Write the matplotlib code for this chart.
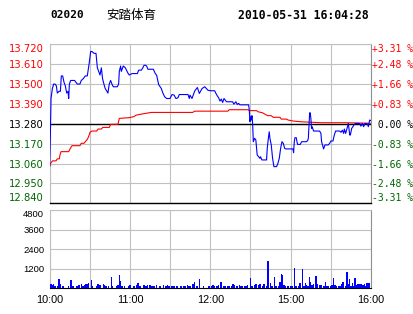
import matplotlib.pyplot as plt
import numpy as np

plt.rcParams['font.family'] = ['DejaVu Sans', 'Noto Sans CJK SC']

code = '02020'
name = '安踏体育'
stamp = '2010-05-31 16:04:28'
prev_close = 13.28
price_ticks = [12.84, 12.95, 13.06, 13.17, 13.28, 13.39, 13.50, 13.61, 13.72]
vol_ticks = [1200, 2400, 3600, 4800]
time_ticks = [0, 60, 120, 180, 240]
time_labels = ['10:00', '11:00', '12:00', '15:00', '16:00']

# minutes since open (10:00-12:30, 14:30-16:00 -> 0..240)
price_min = [0, 0.5, 1, 2, 3, 4, 5, 5.7, 7, 8, 8.7, 9.7, 10.7, 11.7, 12.7, 13.7,
             14.2, 14.7, 15.7, 18.6, 19.6, 20.6, 22.6, 23.6, 25.1, 26.6, 28.1,
             28.6, 29.6, 30.6, 31.6, 33.1, 34.6, 35.6, 36.6, 37.6, 38.6, 39.5,
             40.5, 41.5, 43.5, 44.5, 45.5, 46.5, 47.5, 50.5, 51.5, 52, 53, 53.5,
             55, 56.5, 58.5, 59.5,
             61.5, 65.5, 66.5, 68.5, 69.5, 70.5, 71.5, 72.4, 73.4, 77.4, 78.9,
             79.9, 81.4, 83.4, 84.4, 85.9, 87.4, 89.9, 91.4, 92.9, 94.3, 95.8,
             96.8, 103.3, 104.3, 104.8, 106.3, 108.3, 110.3, 111.8, 113.8, 115.8,
             118.2, 120.2, 123.2, 124.2, 125.2, 126.2, 127.2, 128.2, 129.2,
             130.2, 131.1, 132.1, 136.6, 137.6, 139.1, 140.1, 141.1, 142.1,
             148.6, 149.1, 149.6, 150.1, 150.6, 151.1, 151.6, 152.1, 153.1,
             154.0, 155.0, 156.0, 157.0, 157.5, 158.5, 162.0, 162.5, 163.5,
             164.0, 164.5, 165.5, 166.5, 167.5, 169.5, 170.5, 171.5, 172.5,
             173.5, 174.5, 175.5, 176.4, 179.4,
             181.7, 182.2, 182.7, 183.2, 184.2, 184.7, 185.2, 187.2, 188.2,
             191.7, 192.7, 193.2, 193.7, 194.2, 194.6, 195.1, 195.6, 196.1,
             197.1, 201.6, 202.6, 203.1, 204.1, 204.6, 205.6, 208.1, 209.1,
             210.1, 211.6, 212.6, 213.6, 216.6, 217.6, 218.6, 219.6, 220.1,
             221.1, 222.1, 223.1, 223.6, 224.1, 224.6, 225.6, 226.5, 227.5,
             228.5, 231.5, 232.5, 233.5, 234.5, 235.5, 236.5, 237.5, 238.0,
             239.0, 240.0]
price = [13.05, 13.22, 13.42, 13.475, 13.50, 13.50, 13.49, 13.45, 13.46, 13.46,
         13.545, 13.545, 13.51, 13.49, 13.45, 13.46, 13.42, 13.50, 13.52, 13.52,
         13.51, 13.50, 13.50, 13.52, 13.53, 13.545, 13.545, 13.57, 13.62, 13.68,
         13.68, 13.67, 13.67, 13.59, 13.57, 13.55, 13.59, 13.53, 13.50, 13.475,
         13.45, 13.50, 13.52, 13.50, 13.485, 13.485, 13.50, 13.57, 13.60, 13.57,
         13.60, 13.59, 13.56, 13.55,
         13.558, 13.558, 13.577, 13.577, 13.589, 13.604, 13.604, 13.600, 13.582,
         13.582, 13.558, 13.549, 13.497, 13.475, 13.453, 13.429, 13.420, 13.420,
         13.442, 13.439, 13.420, 13.424, 13.442, 13.442, 13.420, 13.439, 13.420,
         13.461, 13.481, 13.448, 13.475, 13.485,
         13.466, 13.463, 13.463, 13.448, 13.435, 13.424, 13.406, 13.417, 13.398,
         13.420, 13.411, 13.402, 13.402, 13.389, 13.402, 13.387, 13.393, 13.385,
         13.385, 13.356, 13.292, 13.319, 13.301, 13.325, 13.282, 13.181, 13.200,
         13.190, 13.108, 13.098, 13.089, 13.098, 13.080, 13.080, 13.144, 13.209,
         13.236, 13.200, 13.163, 13.089, 13.043, 13.043, 13.062, 13.089, 13.144,
         13.181, 13.172, 13.144, 13.141, 13.141,
         13.141, 13.120, 13.181, 13.203, 13.203, 13.181, 13.166, 13.166, 13.181,
         13.181, 13.187, 13.200, 13.273, 13.341, 13.341, 13.310, 13.255, 13.264,
         13.240, 13.240, 13.227, 13.181, 13.154, 13.141, 13.163, 13.163, 13.172,
         13.185, 13.185, 13.218, 13.240, 13.240, 13.233, 13.245, 13.227, 13.251,
         13.227, 13.255, 13.282, 13.251, 13.218, 13.218, 13.255, 13.264, 13.277,
         13.282, 13.282, 13.267, 13.282, 13.264, 13.282, 13.282, 13.277, 13.264,
         13.301, 13.297]

avg_min = [0, 0.7, 2.2, 4.7, 5.7, 7.2, 7.7, 8.5, 14.2, 15.2, 16.7, 22.6, 23.6,
           25.6, 26.6, 28.1, 29.1, 30.1, 31.6, 35.1, 36.1, 38.6, 39.6, 44.5,
           45.5, 51, 52, 59.5, 63, 64.5, 69.5, 75.9, 106.8, 108.3, 133.1, 134.1,
           148.1, 149.1, 154.5, 155.5, 159, 161, 163, 165.5, 167, 172, 173, 177,
           178, 182.2, 188.2, 203.1, 221, 240]
avg = [13.043, 13.062, 13.075, 13.075, 13.086, 13.086, 13.108, 13.126, 13.126,
       13.141, 13.159, 13.159, 13.172, 13.172, 13.181, 13.194, 13.209, 13.233,
       13.240, 13.240, 13.251, 13.251, 13.260, 13.260, 13.277, 13.277, 13.310,
       13.314, 13.320, 13.328, 13.335, 13.343, 13.343, 13.350, 13.350, 13.358,
       13.358, 13.353, 13.353, 13.347, 13.341, 13.332, 13.325, 13.325, 13.316,
       13.316, 13.306, 13.306, 13.301, 13.295, 13.291, 13.286, 13.286, 13.283]

vol_min = [0, 1, 2, 3, 4, 6, 7, 8, 10, 14, 16, 17, 18, 20, 21, 22, 24, 25, 26,
           27, 28, 29, 31, 32, 35, 36, 37, 38, 40, 41, 42, 44, 46, 47, 50, 51,
           52, 53, 54, 56, 59, 60, 63, 65, 66, 67, 68, 70, 71, 72, 73, 75, 76,
           77, 78, 80, 82, 83, 85, 87, 88, 89, 91, 92, 93, 95, 98, 100, 101,
           103, 104, 105, 107, 108, 110, 112, 115, 119, 121, 122, 123, 125, 126,
           128, 130, 131, 133, 134, 136, 137, 138, 140, 142, 143, 144, 146, 147,
           148, 150, 151, 153, 154, 156, 157, 159, 160, 162, 163, 165, 166, 168,
           169, 171, 172, 173, 174, 175, 176, 178, 180, 181, 183, 184, 186, 187,
           189, 190, 191, 192, 193, 194, 195, 196, 197, 199, 200, 202, 203, 205,
           206, 207, 208, 210, 211, 212, 213, 214, 216, 217, 218, 219, 221, 222,
           223, 224, 225, 226, 227, 228, 229, 230, 231, 232, 233, 234, 235, 236,
           237, 238, 239]
vol = [4750, 240, 200, 280, 140, 140, 560, 240, 140, 140, 500, 140, 140, 140,
       140, 200, 260, 140, 200, 280, 260, 300, 500, 140, 140, 240, 200, 200,
       280, 200, 140, 140, 680, 140, 140, 200, 800, 440, 140, 140, 140, 200,
       140, 200, 320, 140, 140, 200, 200, 140, 200, 200, 140, 140, 140, 200,
       140, 140, 200, 140, 200, 140, 140, 140, 140, 140, 140, 140, 140, 200,
       140, 140, 240, 400, 140, 560, 140, 140, 140, 200, 140, 140, 200, 380,
       140, 140, 140, 140, 140, 240, 200, 140, 200, 140, 140, 140, 140, 200,
       620, 140, 200, 260, 200, 240, 140, 240, 140, 1700, 320, 140, 680, 140,
       140, 380, 860, 800, 200, 140, 140, 140, 140, 1220, 140, 140, 320, 1160,
       140, 320, 200, 140, 680, 380, 200, 260, 740, 260, 200, 200, 140, 380,
       140, 140, 140, 200, 620, 200, 140, 140, 140, 260, 380, 140, 980, 260,
       560, 140, 320, 140, 620, 200, 260, 260, 260, 260, 200, 260, 140, 320,
       320, 320]

RED = '#ff0000'
GREEN = '#006600'
GRID = '#c0c0c0'


def color_for(p):
    if abs(p - prev_close) < 1e-9:
        return 'black'
    return RED if p > prev_close else GREEN


fig = plt.figure(figsize=(4.14, 3.14), dpi=100)
ax = fig.add_axes([0.1200, 0.3525, 0.7761, 0.5064])
axv = fig.add_axes([0.1200, 0.0818, 0.7761, 0.2494])

# price panel
ax.set_xlim(0, 240)
ax.set_ylim(price_ticks[0], price_ticks[-1])
ax.set_xticks(range(0, 241, 30))
ax.set_xticklabels([])
ax.set_yticks(price_ticks)
ax.set_yticklabels(['%.3f' % p for p in price_ticks], fontsize=7.2)
ax.grid(True, color=GRID, linewidth=0.8)
ax.tick_params(length=0, pad=4)
ax.set_axisbelow(True)
for lbl, p in zip(ax.get_yticklabels(), price_ticks):
    lbl.set_color(color_for(p))
ax.get_yticklabels()[0].set_va('bottom')
ax.get_yticklabels()[-1].set_va('top')

ax.axhline(prev_close, color='black', linewidth=1.0, zorder=2)
ax.plot(avg_min, avg, color=RED, linewidth=0.8, zorder=3)
ax.plot(price_min, price, color='#0000ff', linewidth=0.8, zorder=4)

for s in ['top', 'left']:
    ax.spines[s].set_color(GRID)
ax.spines['bottom'].set_color('black')
ax.spines['bottom'].set_linewidth(1.0)
ax.spines['right'].set_color('#909090')

ax_r = ax.twinx()
ax_r.set_ylim(price_ticks[0], price_ticks[-1])
ax_r.set_yticks(price_ticks)
pct = []
for p in price_ticks:
    v = (p - prev_close) / prev_close * 100
    pct.append(' 0.00 %' if abs(v) < 1e-9 else '%+.2f %%' % v)
ax_r.set_yticklabels(pct, fontsize=7, family='DejaVu Sans Mono')
ax_r.tick_params(length=0, pad=0.5)
for lbl, p in zip(ax_r.get_yticklabels(), price_ticks):
    lbl.set_color(color_for(p))
ax_r.get_yticklabels()[0].set_va('bottom')
ax_r.get_yticklabels()[-1].set_va('top')
for s in ax_r.spines.values():
    s.set_visible(False)

# volume panel
axv.bar(vol_min, vol, width=1.0, color='#0000ff', linewidth=0, zorder=3)
axv.set_xlim(0, 240)
axv.set_ylim(0, 4800)
axv.set_xticks(range(0, 241, 30))
axv.set_xticklabels([time_labels[time_ticks.index(t)] if t in time_ticks else ''
                     for t in range(0, 241, 30)],
                    fontsize=7.8, family='Liberation Sans')
axv.set_yticks(vol_ticks)
axv.set_yticklabels([str(v) for v in vol_ticks], fontsize=6.8,
                    family=['Liberation Sans Narrow', 'Liberation Sans'])
axv.get_yticklabels()[-1].set_va('top')
axv.grid(True, color=GRID, linewidth=0.8)
axv.set_axisbelow(True)
axv.tick_params(length=0, pad=4)
axv.tick_params(axis='x', pad=5)
for s in ['top', 'left']:
    axv.spines[s].set_color(GRID)
axv.spines['bottom'].set_color('black')
axv.spines['right'].set_color('#909090')

# header
fig.text(50 / 414, 0.951, code, fontsize=8, fontweight='bold',
         family='DejaVu Sans Mono', ha='left', va='center')
fig.text(106 / 414, 0.951, name, fontsize=9, family='Noto Sans CJK SC',
         ha='left', va='center')
fig.text(369 / 414, 0.951, stamp, fontsize=8.3, fontweight='bold',
         family='DejaVu Sans Mono', ha='right', va='center')

fig.savefig('out.png', dpi=100)
